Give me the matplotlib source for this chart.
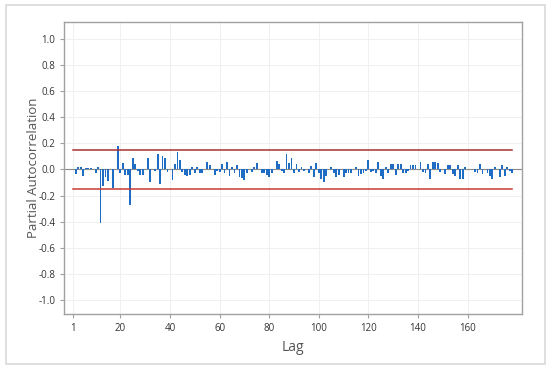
import matplotlib
matplotlib.use("Agg")
import matplotlib.pyplot as plt
from matplotlib.patches import Rectangle

lags = list(range(1, 179))
pacf = [
    0.005, -0.035, 0.015, 0.015, -0.05, 0.01, 0.01, 0.01, 0.005, -0.03,
    0.02, -0.41, -0.13, -0.06, -0.09, 0.0, -0.145, 0.005, 0.18, -0.025,
    0.05, -0.04, -0.04, -0.27, 0.085, 0.04, -0.01, -0.04, -0.04, 0.0,
    0.09, -0.10, 0.005, -0.01, 0.12, -0.11, 0.10, 0.09, -0.02, 0.005,
    -0.08, 0.04, 0.13, 0.07, -0.02, -0.045, -0.05, -0.045, 0.02, -0.03,
    0.02, -0.03, -0.03, 0.0, 0.06, 0.03, 0.0, -0.04, -0.01, -0.02,
    0.04, -0.03, 0.06, -0.05, 0.02, -0.03, 0.035, -0.06, -0.065, -0.08,
    -0.03, 0.005, -0.02, 0.02, 0.05, 0.005, -0.03, -0.03, -0.045, -0.06,
    -0.03, 0.0, 0.065, 0.045, -0.015, -0.025, 0.12, 0.05, 0.085, -0.03,
    0.04, -0.02, 0.02, -0.01, 0.005, -0.03, 0.025, -0.055, 0.05, -0.03,
    -0.07, -0.10, -0.05, 0.005, 0.02, -0.03, -0.055, -0.045, 0.005, -0.055,
    -0.03, -0.03, -0.03, 0.005, 0.02, -0.05, -0.035, -0.03, -0.01, 0.075,
    -0.02, -0.01, -0.025, 0.06, -0.05, -0.07, 0.02, -0.03, 0.04, 0.04,
    -0.045, 0.045, 0.045, -0.03, -0.025, -0.01, 0.035, 0.035, 0.035, 0.005,
    0.06, -0.02, -0.03, 0.04, -0.07, 0.06, 0.06, 0.05, -0.02, 0.0,
    -0.035, 0.03, 0.03, -0.035, -0.05, 0.03, -0.07, -0.07, 0.02, 0.005,
    0.005, 0.0, -0.02, -0.03, 0.045, -0.035, 0.005, -0.03, -0.05, -0.07,
    0.02, 0.005, -0.06, 0.03, -0.05, 0.02, -0.01, -0.03,
]
upper_limit = 0.15
lower_limit = -0.15
x_ticks = [1, 20, 40, 60, 80, 100, 120, 140, 160]
y_ticks = [-1.0, -0.8, -0.6, -0.4, -0.2, 0.0, 0.2, 0.4, 0.6, 0.8, 1.0]

plt.rcParams['font.family'] = ['Open Sans', 'DejaVu Sans']

fig = plt.figure(figsize=(5.5, 3.69), dpi=100)
fig.patches.append(Rectangle((6 / 550, 1 - 364 / 369), 539 / 550, 359 / 369,
                             transform=fig.transFigure, fill=False,
                             edgecolor='#d9d9d9', linewidth=1.2))
ax = fig.add_axes([0.117, 0.148, 0.8315, 0.793])

ax.set_xlim(-2.6, 181.8)
ax.set_ylim(-1.11, 1.13)
ax.set_xticks(x_ticks)
ax.set_yticks(y_ticks)
ax.set_yticklabels([f"{v:.1f}" for v in y_ticks])
ax.grid(True, color='#f0f0f0', linewidth=0.8)
ax.set_axisbelow(True)

ax.axhline(0, color='#8a8a8a', linewidth=0.8, zorder=1)
ax.bar(lags, pacf, width=0.75, color='#1f6cc4', zorder=2)
ax.plot([lags[0], lags[-1]], [upper_limit, upper_limit], color='#a83030', linewidth=1.1, zorder=3)
ax.plot([lags[0], lags[-1]], [lower_limit, lower_limit], color='#c83a34', linewidth=1.1, zorder=3)

for s in ax.spines.values():
    s.set_color('#a0a0a0')
    s.set_linewidth(1.0)
ax.tick_params(axis='both', labelsize=7, colors='#333333', length=3, width=0.8)
ax.tick_params(axis='both', color='#a0a0a0')

ax.set_xlabel('Lag', fontsize=10, color='#555555', labelpad=4)
ax.set_ylabel('Partial Autocorrelation', fontsize=9.5, color='#555555', labelpad=-1)

fig.savefig('out.png', dpi=100)
